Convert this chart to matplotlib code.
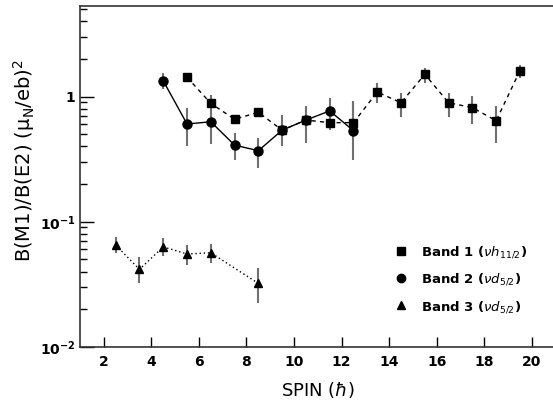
import numpy as np
import matplotlib
matplotlib.use('Agg')
import matplotlib.pyplot as plt
from matplotlib.lines import Line2D
from matplotlib.ticker import FixedLocator, FixedFormatter, NullFormatter

# Band 1 (nu h11/2), squares, dashed
spin_b1 = [5.5, 6.5, 7.5, 8.5, 9.5, 10.5, 11.5, 12.5, 13.5, 14.5, 15.5,
           16.5, 17.5, 18.5, 19.5]
ratio_b1 = [1.43, 0.885, 0.66, 0.75, 0.54, 0.65, 0.62, 0.62, 1.09, 0.895,
            1.51, 0.895, 0.817, 0.643, 1.61]
lo_b1 = [1.37, 0.64, 0.61, 0.71, 0.49, 0.55, 0.56, 0.55, 0.885, 0.684,
         1.29, 0.684, 0.61, 0.428, 1.40]
hi_b1 = [1.49, 1.03, 0.714, 0.79, 0.59, 0.78, 0.68, 0.90, 1.29, 1.08,
         1.69, 1.08, 1.02, 0.843, 1.79]

# Band 2 (nu d5/2), circles, solid
spin_b2 = [4.5, 5.5, 6.5, 7.5, 8.5, 9.5, 10.5, 11.5, 12.5]
ratio_b2 = [1.34, 0.605, 0.63, 0.41, 0.37, 0.54, 0.65, 0.77, 0.535]
lo_b2 = [1.15, 0.40, 0.42, 0.31, 0.27, 0.40, 0.43, 0.54, 0.31]
hi_b2 = [1.54, 0.81, 0.78, 0.51, 0.47, 0.71, 0.84, 0.97, 0.93]

# Band 3 (nu d5/2), triangles, dotted
spin_b3 = [2.5, 3.5, 4.5, 5.5, 6.5, 8.5]
ratio_b3 = [0.0651, 0.0416, 0.063, 0.0552, 0.0565, 0.0321]
lo_b3 = [0.056, 0.0322, 0.053, 0.045, 0.0465, 0.0222]
hi_b3 = [0.075, 0.0525, 0.0737, 0.065, 0.066, 0.0424]

legend_labels = [r'Band 1 ($\nu h_{11/2}$)',
                 r'Band 2 ($\nu d_{5/2}$)',
                 r'Band 3 ($\nu d_{5/2}$)']

fig = plt.figure(figsize=(5.53, 4.08), dpi=100)
ax = fig.add_axes([0.1447, 0.150, 0.86, 0.835])

bands = [
    (spin_b1, ratio_b1, lo_b1, hi_b1, 's', (0, (3, 3)), 6),
    (spin_b2, ratio_b2, lo_b2, hi_b2, 'o', '-', 6.5),
    (spin_b3, ratio_b3, lo_b3, hi_b3, '^', (0, (1, 2)), 6),
]
for x, y, lo, hi, mk, ls, ms in bands:
    y = np.array(y)
    yerr = [y - np.array(lo), np.array(hi) - y]
    ax.errorbar(x, y, yerr=yerr, fmt='none', ecolor='#707070',
                elinewidth=1.5, capsize=0, zorder=2)
    ax.plot(x, y, color='black', linestyle=ls, linewidth=1.0, zorder=3)
    ax.plot(x, y, linestyle='none', marker=mk, markersize=ms,
            color='black', zorder=4)

ax.set_yscale('log')
ax.set_xlim(1, 21)
ax.set_ylim(0.01, 5.3)

ax.xaxis.set_major_locator(FixedLocator(np.arange(2, 21, 2)))
ax.yaxis.set_major_locator(FixedLocator([0.01, 0.1, 1]))
ax.yaxis.set_major_formatter(FixedFormatter(
    [r'$\mathbf{10^{-2}}$', r'$\mathbf{10^{-1}}$',
     r'$\mathbf{1}\;\;\;$']))
minors = [m * d for d in (0.01, 0.1, 1) for m in range(2, 10) if m * d < 5.3]
ax.yaxis.set_minor_locator(FixedLocator(minors))
ax.yaxis.set_minor_formatter(NullFormatter())

ax.tick_params(axis='x', which='major', direction='in', length=7,
               width=1, labelsize=10, pad=6)
ax.tick_params(axis='y', which='major', direction='in', length=10,
               width=1, labelsize=10, pad=3)
ax.tick_params(axis='y', which='minor', direction='in', length=5, width=1)
for lab in ax.get_xticklabels():
    lab.set_fontweight('bold')

for sp in ax.spines.values():
    sp.set_linewidth(1.2)
    sp.set_color('#333333')

ax.set_xlabel(r'SPIN ($\hbar$)', fontsize=13, labelpad=8)
ax.set_ylabel(r'B(M1)/B(E2) ($\mathregular{\mu_N}$/eb)$^2$', fontsize=14)
ax.yaxis.set_label_coords(-0.09, 0.548)

handles = [Line2D([], [], linestyle='none', marker=m, color='black',
                  markersize=6) for m in ('s', 'o', '^')]
leg = ax.legend(handles, legend_labels, loc='upper left',
                bbox_to_anchor=(0.637, 0.336), frameon=False,
                handlelength=1.0, handletextpad=1.0, labelspacing=0.88,
                prop={'size': 9.5, 'weight': 'bold'})

fig.savefig('out.png', dpi=100)
